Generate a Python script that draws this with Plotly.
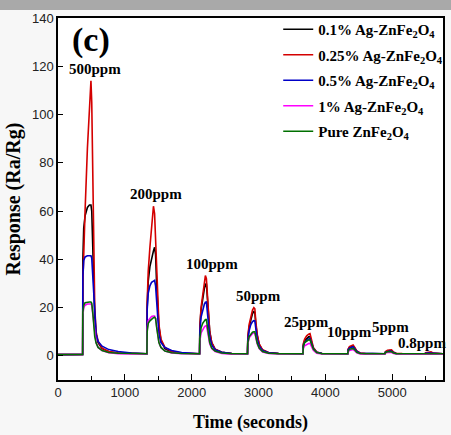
import plotly.graph_objects as go

# Time axis (s), shared by all series
time_s = [0, 200,
          369, 372, 385, 405, 440, 470, 493, 505, 520, 535, 550, 570, 600, 660, 760, 900, 1100,
          1330, 1334, 1350, 1375, 1400, 1428, 1445, 1460, 1475, 1490, 1510, 1540, 1600, 1700, 1850,
          2118, 2122, 2140, 2165, 2190, 2205, 2220, 2235, 2250, 2270, 2300, 2350, 2450, 2600,
          2835, 2840, 2860, 2885, 2910, 2930, 2945, 2960, 2980, 3010, 3060, 3150, 3300,
          3665, 3670, 3690, 3720, 3750, 3770, 3790, 3820, 3870, 3950,
          4335, 4340, 4360, 4390, 4415, 4440, 4470, 4520, 4600,
          4890, 4900, 4930, 4965, 4990, 5020, 5060, 5150,
          5490, 5500, 5540, 5580, 5610, 5660, 5760]

resp_01 = [0.5, 0.6,
           0.6, 40, 53, 58, 61.5, 62.5, 62.5, 60, 45, 28, 16, 9, 5.5, 3, 1.7, 1.2, 1.0,
           0.9, 20, 31, 37, 40.5, 43.5, 45, 42, 30, 20, 12, 6.5, 3, 1.6, 1.1,
           0.9, 12, 19, 24, 28, 29.5, 30, 24, 16, 10, 5.5, 2.8, 1.5, 1.0,
           0.9, 7.5, 12, 15.5, 17.5, 18.3, 18, 13, 8.5, 4.8, 2.4, 1.3, 1.0,
           0.9, 4.5, 6.3, 7.3, 7.9, 8, 6.2, 3.2, 1.5, 1.0,
           0.9, 2.6, 3.4, 3.9, 4.1, 3.2, 1.9, 1.1, 1.0,
           0.9, 1.6, 2.0, 2.2, 2.1, 1.4, 1.0, 0.9,
           0.9, 1.1, 1.2, 1.2, 1.0, 0.9, 0.9]

resp_025 = [0.5, 0.6,
            0.6, 30, 47, 60, 86, 106, 114, 105, 70, 40, 20, 10, 6, 3.2, 1.8, 1.2, 1.0,
            0.9, 22, 35, 45, 54, 62, 59, 48, 33, 22, 13, 7, 3.5, 1.8, 1.2,
            0.9, 12, 20, 26, 31, 33.3, 32, 24, 16, 10, 5.5, 2.8, 1.5, 1.0,
            0.9, 8, 13, 16.5, 19, 20, 19.5, 14, 9, 5, 2.5, 1.4, 1.0,
            0.9, 5, 7, 8.3, 9, 9.2, 7, 3.5, 1.6, 1.0,
            0.9, 2.8, 3.8, 4.3, 4.5, 3.5, 2, 1.2, 1.0,
            0.9, 1.8, 2.3, 2.6, 2.5, 1.6, 1.1, 1.0,
            0.9, 1.3, 1.6, 1.7, 1.2, 1.0, 0.9]

resp_05 = [0.5, 0.6,
           0.6, 33, 39.5, 41, 41.5, 41.5, 41.5, 40.5, 33, 22, 14, 9, 6, 4, 2.6, 1.8, 1.2,
           0.9, 19, 26, 29, 30.5, 31, 31.3, 29, 22, 15, 9, 5.5, 3.5, 2.2, 1.4,
           0.9, 10, 16, 19.5, 21.5, 22.2, 22.3, 18, 12.5, 8, 4.5, 2.5, 1.5, 1.0,
           0.9, 6.5, 10.5, 13, 14.2, 14.6, 14.5, 11, 7, 4, 2.2, 1.3, 1.0,
           0.9, 4, 5.6, 6.5, 7, 7.1, 5.6, 3, 1.5, 1.0,
           0.9, 2.4, 3.2, 3.6, 3.8, 3.0, 1.8, 1.1, 1.0,
           0.9, 1.5, 1.8, 2.0, 1.9, 1.3, 1.0, 0.9,
           0.9, 1.1, 1.2, 1.2, 1.0, 0.9, 0.9]

resp_1 = [0.5, 0.6,
          0.6, 17, 20, 21, 21.5, 21.5, 21.5, 21, 17, 12, 8, 5.5, 3.5, 2.2, 1.3, 0.9, 0.8,
          0.9, 11, 14.5, 15.5, 16.3, 16.5, 16.5, 15.5, 12, 8.5, 5.5, 3.5, 2, 1.2, 0.9,
          0.9, 6, 9.5, 11, 12, 12.4, 12.5, 10.5, 7.5, 5, 3, 1.8, 1.0, 0.7,
          0.9, 5, 7.5, 8.7, 9.3, 9.5, 9.5, 7.5, 5, 3, 1.6, 1.0, 0.8,
          0.9, 3, 4.2, 4.8, 5.1, 5.2, 4.2, 2.3, 1.1, 0.8,
          0.9, 1.7, 2.2, 2.5, 2.6, 2.1, 1.3, 0.8, 0.7,
          0.8, 1.2, 1.4, 1.5, 1.4, 1.0, 0.8, 0.7,
          0.8, 0.9, 1.0, 1.0, 0.8, 0.7, 0.7]

resp_pure = [0.5, 0.6,
             0.6, 18, 21, 22, 22.3, 22.3, 22.3, 21.8, 18, 12, 8, 5.3, 3.5, 2.2, 1.4, 1.1, 0.9,
             0.9, 10, 13.5, 14.5, 15.3, 15.8, 16, 15.5, 12, 8.5, 5.5, 3.5, 2, 1.3, 1.0,
             0.9, 7, 11.5, 13.5, 14.5, 15, 15, 12.5, 8.5, 5.5, 3.2, 2, 1.2, 0.9,
             0.9, 5.5, 8, 9.2, 9.8, 10, 10, 8, 5.3, 3.2, 1.8, 1.1, 0.9,
             0.9, 3.8, 5.5, 6.2, 6.6, 6.7, 5.3, 2.8, 1.4, 0.9,
             0.9, 2, 2.7, 3.0, 3.1, 2.5, 1.5, 1.0, 0.9,
             0.9, 1.4, 1.7, 1.8, 1.7, 1.2, 0.9, 0.9,
             0.9, 1.0, 1.1, 1.1, 0.9, 0.9, 0.9]

series_names = ["0.1% Ag-ZnFe<sub>2</sub>O<sub>4</sub>",
                "0.25% Ag-ZnFe<sub>2</sub>O<sub>4</sub>",
                "0.5% Ag-ZnFe<sub>2</sub>O<sub>4</sub>",
                "1% Ag-ZnFe<sub>2</sub>O<sub>4</sub>",
                "Pure ZnFe<sub>2</sub>O<sub>4</sub>"]
series_colors = ["#000000", "#d40000", "#0000c8", "#ff00ff", "#007000"]
series_values = [resp_01, resp_025, resp_05, resp_1, resp_pure]

conc_labels = ["500ppm", "200ppm", "100ppm", "50ppm", "25ppm", "10ppm", "5ppm", "0.8ppm"]
conc_x = [557, 1473, 2300, 2995, 3718, 4368, 4969, 5446]
conc_y = [119, 67, 38, 24.7, 14, 9.8, 11.9, 5.5]

fig = go.Figure()
for i, (nm, col, vals) in enumerate(zip(series_names, series_colors, series_values)):
    fig.add_trace(go.Scatter(x=time_s, y=vals, mode="lines", name="<b>" + nm + "</b>",
                             line=dict(color=col, width=1.6), legendgroup=str(i)))

serif = "Liberation Serif, Times New Roman, serif"
for lab, cx, cy in zip(conc_labels, conc_x, conc_y):
    fig.add_annotation(x=cx, y=cy, text="<b>" + lab + "</b>", showarrow=False,
                       font=dict(family=serif, size=15, color="#000"))

fig.add_annotation(x=497, y=131, text="<b>(c)</b>", showarrow=False,
                   font=dict(family=serif, size=34, color="#000"))

# gray band at top of image
fig.add_shape(type="rect", xref="paper", yref="paper", x0=-0.2, x1=1.05, y0=1.022, y1=1.06,
              fillcolor="#a9a9a9", line=dict(width=0), layer="below")

axis_common = dict(showline=True, linecolor="#000", linewidth=1.5, mirror=True,
                   ticks="inside", tickcolor="#000", tickwidth=1.3, showgrid=False,
                   zeroline=False, tickfont=dict(family="Liberation Sans, Arial", size=13, color="#222"))

fig.update_layout(
    width=451, height=435,
    margin=dict(l=58, r=3, t=18, b=55),
    paper_bgcolor="#f7f7f7", plot_bgcolor="#ffffff",
    showlegend=True,
    legend=dict(x=0.572, y=1.014, xanchor="left", yanchor="top",
                bgcolor="rgba(0,0,0,0)", font=dict(family=serif, size=15, color="#000"),
                tracegroupgap=3, itemwidth=30),
    xaxis=dict(range=[0, 5760], tickvals=[0, 1000, 2000, 3000, 4000, 5000], ticklen=6,
               minor=dict(dtick=500, tick0=0, ticks="inside", ticklen=4, tickcolor="#000"),
               title=dict(text="<b>Time (seconds)</b>", font=dict(family=serif, size=18, color="#000"),
                          standoff=16),
               **axis_common),
    yaxis=dict(range=[-10, 140], tickvals=[0, 20, 40, 60, 80, 100, 120, 140], ticklen=5,
               title=dict(text="<b>Response (Ra/Rg)</b>", font=dict(family=serif, size=20, color="#000"),
                          standoff=6),
               **axis_common),
)

fig.write_html("out.html")
